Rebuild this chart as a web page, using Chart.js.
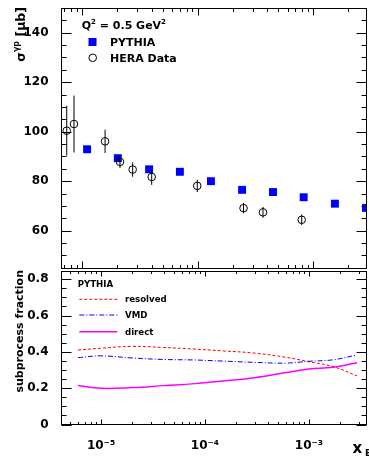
<!DOCTYPE html>
<html><head><meta charset="utf-8">
<script src="https://cdn.jsdelivr.net/npm/chart.js@4/dist/chart.umd.min.js"></script>
<style>
html,body{margin:0;padding:0;background:#fff;width:369px;height:457px;overflow:hidden}
canvas{position:absolute;left:0}
#top{top:0}
#bot{top:270px}
</style></head><body>
<canvas id="top" width="369" height="270"></canvas>
<canvas id="bot" width="369" height="187"></canvas>
<script>
// ---------- data ----------
const pythiaX     = [1.10e-5, 2.03e-5, 3.79e-5, 7.0e-5, 1.30e-4, 2.42e-4, 4.48e-4, 8.26e-4, 1.54e-3, 2.86e-3];
const pythiaSigma = [92.9, 89.3, 84.8, 83.8, 80.0, 76.5, 75.6, 73.5, 70.9, 69.2];
const heraX       = [7.33e-6, 8.47e-6, 1.575e-5, 2.12e-5, 2.73e-5, 3.99e-5, 9.9e-5, 2.49e-4, 3.67e-4, 7.94e-4];
const heraSigma   = [100.4, 103.1, 96.1, 87.8, 84.7, 81.7, 78.1, 69.1, 67.4, 64.4];
const heraErr     = [10.1, 11.5, 4.7, 2.5, 2.9, 3.2, 2.5, 2.1, 2.2, 2.1];

const fracX    = [6e-6, 1e-5, 2e-5, 4e-5, 8e-5, 1.5e-4, 3e-4, 6e-4, 1e-3, 1.7e-3, 2.9e-3];
const resolved = [0.410, 0.420, 0.430, 0.424, 0.415, 0.405, 0.393, 0.370, 0.346, 0.319, 0.268];
const vmd      = [0.368, 0.378, 0.366, 0.358, 0.355, 0.349, 0.342, 0.338, 0.348, 0.356, 0.383];
const direct   = [0.215, 0.199, 0.203, 0.214, 0.225, 0.240, 0.258, 0.286, 0.305, 0.315, 0.340];

const yTicksTop     = [60, 80, 100, 120, 140];
const yTicksBottom  = [0, 0.2, 0.4, 0.6, 0.8];
const yLabelsBottom = ['0', '0.2', '0.4', '0.6', '0.8'];
const xTicks        = [1e-5, 1e-4, 1e-3];
const xTickLabels   = ['10\u207B\u2075', '10\u207B\u2074', '10\u207B\u00B3'];

// ---------- helpers ----------
const FAM = '"DejaVu Sans"';
Chart.defaults.font.family = 'DejaVu Sans';
Chart.defaults.color = '#000';

function rich(ctx, segs, x, y, measureOnly) {
  let w = 0;
  for (const s of segs) {
    ctx.font = `bold ${s.size}px ${FAM}`;
    if (!measureOnly) ctx.fillText(s.t, x + w, y + (s.dy || 0));
    w += ctx.measureText(s.t).width;
  }
  return w;
}

function noPad(s) { s.paddingTop = 0; s.paddingBottom = 0; s.paddingLeft = 0; s.paddingRight = 0; }

function frameTicks(cfg) {
  return {
    id: 'frameTicks',
    afterDatasetsDraw(chart) {
      const {ctx, chartArea: a, scales: {x, y}} = chart;
      ctx.save();
      ctx.strokeStyle = '#000'; ctx.lineWidth = 1;
      const L = Math.round(a.left) + 0.5, R = Math.round(a.right) - 0.5;
      const T = Math.round(a.top) + 0.5, B = Math.round(a.bottom) - 0.5;
      ctx.strokeRect(L, T, R - L, B - T);
      ctx.beginPath();
      const n = Math.round((y.max - cfg.yMinorStart) / cfg.yMinor);
      for (let i = 0; i <= n; i++) {
        const v = cfg.yMinorStart + i * cfg.yMinor;
        if (v < y.min - 1e-9 || v > y.max + 1e-9) continue;
        const p = Math.round(y.getPixelForValue(v)) + 0.5;
        const r = v / cfg.yMajor;
        const len = Math.abs(r - Math.round(r)) < 1e-6 ? cfg.yMajLen : cfg.yMinLen;
        ctx.moveTo(L, p); ctx.lineTo(L + len, p);
        ctx.moveTo(R, p); ctx.lineTo(R - len, p);
      }
      for (let d = Math.floor(Math.log10(x.min)); d <= Math.ceil(Math.log10(x.max)); d++) {
        for (let m = 1; m <= 9; m++) {
          const v = m * Math.pow(10, d);
          if (v < x.min || v > x.max) continue;
          const p = Math.round(x.getPixelForValue(v)) + 0.5;
          const len = m === 1 ? cfg.xMajLen : cfg.xMinLen;
          ctx.moveTo(p, B); ctx.lineTo(p, B - len);
          ctx.moveTo(p, T); ctx.lineTo(p, T + len);
        }
      }
      ctx.stroke();
      ctx.restore();
    }
  };
}

// ---------- top panel ----------
const errData = [];
heraX.forEach((xv, i) => {
  errData.push({x: xv, y: heraSigma[i] - heraErr[i]});
  errData.push({x: xv, y: heraSigma[i] + heraErr[i]});
  errData.push({x: xv, y: null});
});

const topText = {
  id: 'topText',
  afterDraw(chart) {
    const ctx = chart.ctx;
    ctx.save();
    ctx.fillStyle = '#000';
    ctx.textBaseline = 'alphabetic';
    const ySegs = [{t: '\u03C3', size: 12.5}, {t: '\u03B3p', size: 8, dy: -6}, {t: ' [\u03BCb]', size: 12.5}];
    const W = rich(ctx, ySegs, 0, 0, true);
    ctx.save();
    ctx.translate(24.5, 7 + W);
    ctx.rotate(-Math.PI / 2);
    rich(ctx, ySegs, 0, 0);
    ctx.restore();
    rich(ctx, [{t: 'Q', size: 11}, {t: '2', size: 7, dy: -5}, {t: ' = 0.5 GeV', size: 11}, {t: '2', size: 7, dy: -5}], 81.7, 29);
    ctx.fillStyle = '#0000ff';
    ctx.fillRect(88.5, 38, 8, 8);
    ctx.fillStyle = '#000';
    rich(ctx, [{t: 'PYTHIA', size: 11}], 110, 45.7);
    ctx.beginPath();
    ctx.arc(92.7, 57.8, 3.8, 0, Math.PI * 2);
    ctx.strokeStyle = '#000'; ctx.lineWidth = 1; ctx.stroke();
    rich(ctx, [{t: 'HERA Data', size: 11}], 110, 61.7);
    ctx.restore();
  }
};

new Chart(document.getElementById('top'), {
  type: 'scatter',
  data: {
    datasets: [
      {label: 'err', data: errData, showLine: true, spanGaps: false, pointRadius: 0,
       borderColor: '#000', borderWidth: 1},
      {label: 'HERA Data', data: heraX.map((xv, i) => ({x: xv, y: heraSigma[i]})),
       pointStyle: 'circle', pointRadius: 3.8, borderColor: '#000', borderWidth: 1,
       backgroundColor: 'rgba(0,0,0,0)'},
      {label: 'PYTHIA', data: pythiaX.map((xv, i) => ({x: xv, y: pythiaSigma[i]})),
       pointStyle: 'rect', pointRadius: 5.6, backgroundColor: '#0000ff', borderWidth: 0}
    ]
  },
  options: {
    responsive: false, animation: false, devicePixelRatio: 1,
    layout: {autoPadding: false, padding: {top: 8, right: 2, bottom: 1, left: 0}},
    plugins: {legend: {display: false}, tooltip: {enabled: false}},
    scales: {
      x: {type: 'logarithmic', min: 6.54e-6, max: 2.92e-3, display: false},
      y: {type: 'linear', min: 44.5, max: 150,
          grid: {display: false}, border: {display: false},
          afterBuildTicks: s => { s.ticks = yTicksTop.map(v => ({value: v})); },
          afterFit: s => { s.width = 61; noPad(s); },
          ticks: {padding: 4.5, color: '#000', font: {size: 12, weight: 'bold'}, autoSkip: false,
                  callback: v => String(v)}}
    }
  },
  plugins: [frameTicks({yMinorStart: 45, yMinor: 5, yMajor: 20, yMajLen: 10, yMinLen: 5, xMajLen: 7, xMinLen: 3.5}), topText]
});

// ---------- bottom panel ----------
const botText = {
  id: 'botText',
  afterDraw(chart) {
    const ctx = chart.ctx;
    ctx.save();
    ctx.fillStyle = '#000';
    rich(ctx, [{t: 'PYTHIA', size: 8.6}], 77.7, 16.7);
    const items = [
      {y: 29.3, c: '#ff0000', d: [3, 2], w: 1, t: 'resolved', ty: 32.3},
      {y: 45, c: '#0000ff', d: [5, 2, 1, 2], w: 1, t: 'VMD', ty: 48.3},
      {y: 61.7, c: '#ff00ff', d: [], w: 1.5, t: 'direct', ty: 65}
    ];
    for (const it of items) {
      ctx.beginPath();
      ctx.setLineDash(it.d); ctx.strokeStyle = it.c; ctx.lineWidth = it.w;
      ctx.moveTo(79.3, it.y); ctx.lineTo(117.3, it.y); ctx.stroke();
      ctx.setLineDash([]);
      rich(ctx, [{t: it.t, size: 8.6}], 125, it.ty);
    }
    const segs = [{t: 'subprocess fraction', size: 11}];
    const W = rich(ctx, segs, 0, 0, true);
    ctx.save();
    ctx.translate(22.5, W);
    ctx.rotate(-Math.PI / 2);
    rich(ctx, segs, 0, 0);
    ctx.restore();
    rich(ctx, [{t: 'x', size: 15}], 352.5, 183);
    rich(ctx, [{t: 'Bj', size: 9}], 365, 185.5);
    ctx.restore();
  }
};

const line = (data, color, dash, width) => ({
  data: fracX.map((xv, i) => ({x: xv, y: data[i]})),
  showLine: true, pointRadius: 0, borderColor: color, borderWidth: width,
  borderDash: dash, tension: 0.4, fill: false
});

new Chart(document.getElementById('bot'), {
  type: 'scatter',
  data: {
    datasets: [
      Object.assign(line(vmd, '#0000ff', [5, 2, 1, 2], 1), {label: 'VMD'}),
      Object.assign(line(resolved, '#ff0000', [3, 2], 1), {label: 'resolved'}),
      Object.assign(line(direct, '#ff00ff', [], 1.5), {label: 'direct'})
    ]
  },
  options: {
    responsive: false, animation: false, devicePixelRatio: 1,
    layout: {autoPadding: false, padding: {top: 1, right: 2, bottom: 0, left: 0}},
    plugins: {legend: {display: false}, tooltip: {enabled: false}},
    scales: {
      x: {type: 'logarithmic', min: 4.12e-6, max: 3.62e-3,
          grid: {display: false}, border: {display: false},
          afterBuildTicks: s => { s.ticks = xTicks.map(v => ({value: v})); },
          afterFit: s => { s.height = 32.5; noPad(s); },
          ticks: {padding: 6, color: '#000', font: {size: 12, weight: 'bold'}, autoSkip: false, maxRotation: 0,
                  callback: (v) => { const i = xTicks.findIndex(t => Math.abs(t - v) / t < 1e-6); return i >= 0 ? xTickLabels[i] : ''; }}},
      y: {type: 'linear', min: 0, max: 0.845,
          grid: {display: false}, border: {display: false},
          afterBuildTicks: s => { s.ticks = yTicksBottom.map(v => ({value: v})); },
          afterFit: s => { s.width = 61; noPad(s); },
          ticks: {padding: 4.5, color: '#000', font: {size: 12, weight: 'bold'}, autoSkip: false,
                  callback: (v) => { const i = yTicksBottom.findIndex(t => Math.abs(t - v) < 1e-9); return i >= 0 ? yLabelsBottom[i] : ''; }}}
    }
  },
  plugins: [frameTicks({yMinorStart: 0, yMinor: 0.05, yMajor: 0.2, yMajLen: 10, yMinLen: 5, xMajLen: 5, xMinLen: 2.5}), botText]
});
</script>
</body></html>
